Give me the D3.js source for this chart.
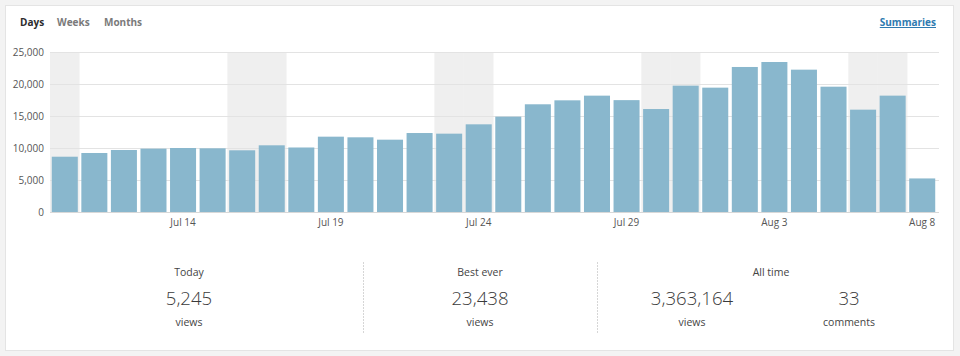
<!DOCTYPE html>
<html><head><meta charset="utf-8">
<script src="https://cdn.jsdelivr.net/npm/d3@7"></script>
<style>
html,body{margin:0;padding:0;background:#f3f3f3;}
svg{display:block;font-family:"Open Sans","Noto Sans",sans-serif;}
</style></head>
<body><svg id="c" width="960" height="356"></svg>
<script>
const days = ["2016-07-10","2016-07-11","2016-07-12","2016-07-13","2016-07-14","2016-07-15","2016-07-16","2016-07-17","2016-07-18","2016-07-19",
"2016-07-20","2016-07-21","2016-07-22","2016-07-23","2016-07-24","2016-07-25","2016-07-26","2016-07-27","2016-07-28","2016-07-29",
"2016-07-30","2016-07-31","2016-08-01","2016-08-02","2016-08-03","2016-08-04","2016-08-05","2016-08-06","2016-08-07","2016-08-08"];
const views = [8640,9220,9690,9900,10000,9950,9640,10420,10080,11770,
11670,11300,12340,12240,13700,14900,16830,17450,18180,17480,
16090,19740,19430,22660,23438,22240,19580,15990,18180,5245];
const weekendDays = ["2016-07-10","2016-07-16","2016-07-17","2016-07-23","2016-07-24","2016-07-30","2016-07-31","2016-08-06","2016-08-07"];
const tickDays = ["2016-07-14","2016-07-19","2016-07-24","2016-07-29","2016-08-03","2016-08-08"];
const yTicks = [0,5000,10000,15000,20000,25000];
const tabs = ["Days","Weeks","Months"];
const stats = [
  {title:"Today", value:"5,245", unit:"views", x:189, tx:189},
  {title:"Best ever", value:"23,438", unit:"views", x:480, tx:480},
  {title:"All time", value:"3,363,164", unit:"views", x:692, tx:771},
  {title:"", value:"33", unit:"comments", x:849, tx:849}
];

const svg = d3.select("#c");
svg.append("rect").attr("x",5.5).attr("y",5.5).attr("width",948).attr("height",345)
  .attr("fill","#fff").attr("stroke","#e4e4e4");

// tabs
const tabX = [20,57,104];
svg.selectAll("text.tab").data(tabs).join("text")
  .attr("x",(d,i)=>tabX[i]).attr("y",26)
  .attr("font-size",10).attr("font-weight",700)
  .attr("fill",(d,i)=>i===0?"#2c2c2c":"#7a7a7a").text(d=>d);
svg.append("text").attr("x",936).attr("y",26).attr("text-anchor","end")
  .attr("font-size",10).attr("font-weight",700).attr("fill","#2f7ab0")
  .attr("text-decoration","underline").text("Summaries");

const x = d3.scaleBand().domain(days).range([50,937]).paddingInner(0.12).paddingOuter(0.06);
const y = d3.scaleLinear().domain([0,25000]).range([212,52]);
const step = x.step();

// weekend shading
svg.selectAll("rect.we").data(weekendDays).join("rect")
  .attr("x",d=>Math.max(50, x(d)-step*x.paddingInner()/2)).attr("y",y(25000))
  .attr("width",d=>{const x0=x(d)-step*x.paddingInner()/2; return step - Math.max(0,50-x0);})
  .attr("height",y(0)-y(25000)).attr("fill","#efefef");

// grid
svg.selectAll("line.grid").data(yTicks).join("line")
  .attr("x1",50).attr("x2",939).attr("y1",d=>y(d)+0.5).attr("y2",d=>y(d)+0.5)
  .attr("stroke",d=>d===0?"#d8d8d8":"#e3e3e3");

// y axis labels
const yAxis = d3.axisLeft(y).tickValues(yTicks).tickSize(0).tickPadding(0).tickFormat(d3.format(","));
const ga = svg.append("g").attr("transform","translate(44,0)").call(yAxis);
ga.select(".domain").remove();
ga.selectAll("text").attr("font-size",10).attr("fill","#555").attr("font-family","Open Sans, sans-serif");

// bars
svg.selectAll("rect.bar").data(views).join("rect")
  .attr("x",(d,i)=>x(days[i])).attr("width",x.bandwidth())
  .attr("y",d=>y(d)).attr("height",d=>y(0)-y(d)).attr("fill","#89b7cd");

// x labels
const fmt = d3.timeFormat("%b %-d");
const parse = d3.timeParse("%Y-%m-%d");
const xAxis = d3.axisBottom(x).tickValues(tickDays).tickSize(0).tickPadding(0).tickFormat(d=>fmt(parse(d)));
const gx = svg.append("g").attr("transform","translate(0,219)").call(xAxis);
gx.select(".domain").remove();
gx.selectAll("text").attr("font-size",10).attr("fill","#555").attr("font-family","Open Sans, sans-serif");

// dividers
[363,597].forEach(px=>{
  svg.append("line").attr("x1",px+0.5).attr("x2",px+0.5).attr("y1",262).attr("y2",334)
    .attr("stroke","#d6d6d6").attr("stroke-dasharray","2,1");
});

// stats
const sg = svg.selectAll("g.stat").data(stats).join("g");
sg.append("text").attr("x",d=>d.tx).attr("y",276).attr("text-anchor","middle")
  .attr("font-size",10.5).attr("fill","#444").text(d=>d.title);
sg.append("text").attr("x",d=>d.x).attr("y",305).attr("text-anchor","middle")
  .attr("font-size",18.6).attr("font-weight",300).attr("fill","#3a3a3a").text(d=>d.value);
sg.append("text").attr("x",d=>d.x).attr("y",326).attr("text-anchor","middle")
  .attr("font-size",10.5).attr("fill","#444").text(d=>d.unit);
</script></body></html>
